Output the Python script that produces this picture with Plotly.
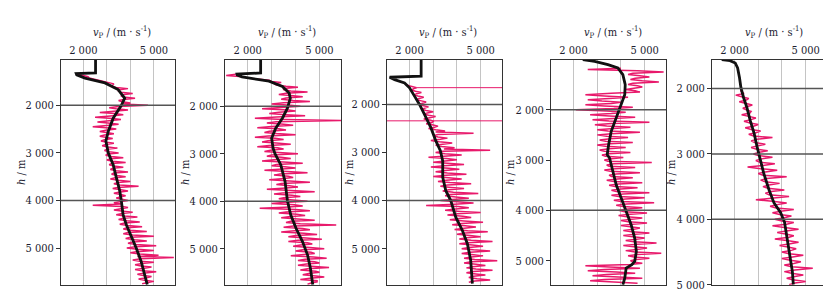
import plotly.graph_objects as go

W, H = 831, 289

# ---------------- data ----------------
# black smoothed velocity curves (depth m, vp m/s)
b1_d = [1042, 1320, 1335, 1360, 1430, 1530, 1670, 1850, 2000, 2270, 2550, 2750, 3000, 3250, 3530, 3800, 4020, 4300, 4510, 4720, 5000, 5280, 5560, 5770]
b1_v = [2520, 2520, 1700, 1720, 2070, 2920, 3480, 3760, 3620, 3270, 3060, 2960, 3060, 3270, 3410, 3550, 3620, 3690, 3830, 4020, 4250, 4460, 4610, 4720]

b2_d = [1017, 1297, 1320, 1340, 1380, 1420, 1470, 1580, 1720, 1830, 2040, 2250, 2460, 2670, 2880, 3000, 3230, 3580, 3990, 4290, 4570, 4850, 5130, 5410, 5760]
b2_v = [2540, 2540, 1550, 1560, 1760, 2330, 2890, 3450, 3730, 3780, 3660, 3450, 3170, 3000, 3060, 3140, 3380, 3560, 3660, 3800, 4020, 4290, 4500, 4620, 4720]

b3_d = [1068, 1412, 1433, 1483, 1551, 1654, 1826, 2000, 2207, 2482, 2758, 2960, 3172, 3517, 3793, 4000, 4345, 4621, 4898, 5242, 5726]
b3_v = [2490, 2490, 1160, 1370, 1790, 2000, 2210, 2420, 2630, 2900, 3110, 3300, 3400, 3400, 3530, 3740, 3950, 4230, 4440, 4580, 4650]

b4_d = [1006, 1038, 1105, 1171, 1304, 1503, 1702, 1901, 2165, 2429, 2696, 2895, 2960, 3225, 3491, 3755, 4020, 4286, 4551, 4815, 5014, 5081, 5147, 5346, 5479]
b4_v = [2390, 2890, 3450, 3870, 4080, 4180, 4160, 4010, 3800, 3590, 3480, 3420, 3520, 3660, 3800, 4010, 4220, 4430, 4580, 4650, 4580, 4460, 4220, 4160, 4080]

b5_d = [1558, 1573, 1608, 1683, 1834, 1985, 2136, 2287, 2487, 2689, 2890, 2991, 3292, 3543, 3745, 3896, 4046, 4297, 4549, 4800, 5000]
b5_v = [1460, 1810, 2030, 2130, 2210, 2270, 2380, 2520, 2660, 2830, 2950, 3020, 3230, 3450, 3660, 3940, 4110, 4220, 4340, 4440, 4480]

# pink measured logs, 25 m sampling: "core" samples at start-25+50k, "spike" samples at start+50k
p1_start = 1350
p1_core = [1750, 2000, 2250, 2700, 3000, 3250, 3400, 3550, 3600, 3750,
           3700, 3800, 3650, 3700, 3500, 3400, 3300, 3350, 3150, 3250,
           3100, 3150, 3000, 3100, 2950, 3050, 2900, 3000, 2900, 3000,
           2950, 3050, 3000, 3100, 3050, 3200, 3150, 3250, 3200, 3300,
           3250, 3400, 3300, 3450, 3350, 3500, 3450, 3550, 3450, 3600,
           3500, 3600, 3550, 3650, 3550, 3600, 3650, 3600, 3700, 3650,
           3750, 3700, 3850, 3750, 3900, 3850, 4000, 3900, 4100, 4000,
           4200, 4100, 4250, 4200, 4300, 4250, 4400, 4300, 4450, 4400,
           4500, 4450, 4600, 4500, 4650, 4550, 4700, 4600, 4750]
p1_spike = [1700, 2200, 2450, 2900, 3300, 3200, 3900, 3500, 4100, 3600,
            4200, 3500, 4000, 4750, 3100, 3900, 2700, 3700, 2500, 3600,
            2600, 3500, 2400, 3400, 2700, 3300, 2700, 3250, 2750, 3300,
            2800, 3450, 2900, 3500, 2950, 3700, 3000, 3800, 3100, 3700,
            3150, 3900, 3200, 3800, 3150, 4000, 3300, 4350, 3250, 3900,
            3300, 3800, 3400, 3900, 3300, 2400, 3900, 3300, 4100, 3400,
            4300, 3500, 4400, 3550, 4500, 3700, 4700, 3700, 5000, 3800,
            4700, 3900, 5100, 3850, 5000, 4000, 5200, 5850, 4100, 5000,
            4200, 4900, 4200, 5100, 4300, 4900, 4350, 5000, 4500]

p2_start = 1350
p2_core = [1500, 1800, 2400, 3000, 3100, 3600, 3500, 3800, 3600, 3900,
           3600, 3900, 3500, 3800, 3400, 3700, 3300, 3600, 3200, 3500,
           3200, 3400, 3000, 3300, 2900, 3200, 2850, 3150, 2850, 3200,
           2900, 3250, 2950, 3300, 3000, 3400, 3100, 3500, 3200, 3550,
           3300, 3650, 3350, 3700, 3400, 3750, 3400, 3750, 3450, 3800,
           3450, 3850, 3500, 3900, 3500, 3950, 3550, 4000, 3600, 4050,
           3700, 4100, 3800, 4200, 3900, 4300, 3950, 4350, 4000, 4450,
           4100, 4500, 4200, 4600, 4300, 4650, 4350, 4750, 4400, 4800,
           4450, 4800, 4500, 4850, 4550, 4850, 4600, 4900, 4650]
p2_spike = [1100, 2000, 2900, 3400, 3200, 4100, 3500, 4500, 3300, 4300,
            3400, 4600, 3000, 4200, 2600, 4000, 2900, 4400, 2300, 5900,
            2800, 3900, 2400, 3600, 2700, 4000, 2300, 3500, 2600, 3800,
            2400, 3500, 2700, 4100, 2800, 3800, 2600, 4300, 3000, 4000,
            2700, 4500, 3100, 3900, 2900, 4600, 3200, 4100, 2800, 4800,
            3100, 4200, 3300, 4500, 3000, 4300, 2500, 4600, 3300, 4400,
            3400, 4800, 3600, 5700, 3500, 4600, 3400, 4900, 3700, 5100,
            3700, 4700, 3900, 5200, 4000, 4800, 3800, 5300, 4100, 5000,
            4100, 5400, 4200, 5000, 4300, 5200, 4200, 4900, 4500]

p3_start = 1600
p3_core = [1900, 2100, 2150, 2250, 2300, 2350, 2400, 2500, 2550, 2600,
           2650, 2700, 2750, 2800, 2850, 2900, 2950, 3000, 3050, 3100,
           3100, 3200, 3200, 3300, 3250, 3400, 3350, 3450, 3400, 3500,
           3450, 3550, 3500, 3600, 3450, 3650, 3500, 3600, 3550, 3650,
           3550, 3700, 3600, 3750, 3650, 3850, 3700, 3950, 3800, 4000,
           3900, 4050, 3950, 4150, 4000, 4250, 4100, 4300, 4200, 4350,
           4300, 4450, 4350, 4550, 4400, 4600, 4450, 4650, 4500, 4700,
           4550, 4700, 4600, 4750, 4600, 4800, 4650, 4800, 4700, 4800,
           4700, 4850, 4750]
p3_spike = [1900, 2300, 2100, 2500, 2200, 2600, 2300, 2700, 2400, 2800,
            2500, 3000, 2600, 3100, 2600, 3000, 2700, 3200, 2800, 3500,
            4700, 3000, 3600, 2900, 3800, 3100, 3900, 5400, 3100, 4200,
            2800, 4000, 3000, 4300, 2900, 4100, 3100, 4400, 3000, 4200,
            3200, 4600, 3300, 4300, 3400, 4900, 3500, 4500, 3300, 4700,
            2700, 4500, 3500, 5000, 3600, 4600, 3700, 5100, 3800, 4800,
            3900, 5300, 4000, 5000, 4100, 5500, 4100, 5100, 4200, 5400,
            4200, 5100, 4300, 5700, 4300, 5200, 4400, 5500, 4400, 5200,
            4500, 5400, 4500]
p3_long_d = [1650, 2340]
p3_long_lo = [2300, 900]
p3_long_hi = [6100, 6100]

p4_start = 1200
p4_core = [4000, 4700, 4500, 4800, 4600, 4900, 4500, 4700, 4550, 4600,
           3600, 3300, 3500, 3200, 3600, 3300, 3700, 3400, 3600, 3500,
           3700, 3500, 3600, 3400, 3700, 3450, 3600, 3400, 3550, 3350,
           3550, 3350, 3500, 3300, 3500, 3350, 3600, 3450, 3700, 3500,
           3750, 3550, 3800, 3600, 3850, 3700, 3900, 3750, 4000, 3800,
           4100, 3900, 4200, 4000, 4250, 4100, 4300, 4150, 4400, 4250,
           4450, 4300, 4500, 4400, 4550, 4450, 4600, 4500, 4650, 4550,
           4700, 4550, 4750, 4600, 4700, 4550, 4650, 4500, 4400, 3500,
           3300, 3800, 3400, 3900, 3300, 3700]
p4_spike = [2600, 5800, 4300, 5200, 4400, 5600, 4300, 4900, 4200, 4800,
            2500, 4300, 2600, 4000, 2500, 4500, 2100, 4200, 2700, 4600,
            2800, 5200, 2900, 4400, 3000, 4800, 3000, 4300, 3100, 4500,
            3000, 4200, 3100, 4400, 3200, 4100, 3300, 5300, 3400, 4600,
            3300, 4800, 3500, 4500, 3400, 4900, 3500, 4700, 3600, 5200,
            3600, 5000, 3700, 5400, 3800, 4900, 3900, 5100, 3900, 4900,
            4000, 5100, 4000, 4800, 4100, 5200, 4100, 5000, 4200, 5500,
            4100, 5100, 4200, 5700, 4300, 5200, 4400, 4900, 2500, 4800,
            2600, 4600, 2800, 4900, 2700, 4700]

p5_start = 2050
p5_core = [2250, 2400, 2300, 2500, 2450, 2550, 2500, 2650, 2600, 2700,
           2650, 2800, 2700, 2900, 2800, 2950, 2850, 3000, 2900, 3050,
           3000, 3150, 3050, 3200, 3100, 3300, 3200, 3350, 3300, 3450,
           3400, 3550, 3450, 3650, 3600, 3800, 3750, 3950, 3900, 4100,
           4000, 4200, 4100, 4250, 4150, 4300, 4200, 4350, 4250, 4400,
           4300, 4450, 4350, 4500, 4400, 4550, 4400, 4550, 4450, 4550]
p5_spike = [2300, 2050, 2600, 2200, 2750, 2350, 2700, 2300, 2900, 2400,
            3000, 2450, 3100, 2600, 3600, 2700, 3300, 2700, 3400, 2800,
            3600, 2900, 3700, 2550, 3800, 3000, 4200, 3100, 3900, 3200,
            4100, 3300, 4300, 2900, 4200, 3500, 4500, 3600, 4400, 3700,
            4500, 3600, 4700, 3800, 4500, 3700, 4700, 3900, 4600, 4000,
            4900, 4000, 4800, 4100, 5300, 4100, 4900, 4200, 5000, 4300]

y_ranges = [(5770, 1042), (5760, 1017), (5750, 1068), (5477, 1006), (5000, 1558)]
hlines = [[2000, 4000], [2000, 4000], [2000, 4000], [2000, 4000], [2000, 3000, 4000]]
x_ticks = [2000, 5000]
x_ticktext = ["2 000", "5 000"]
y_ticks = [2000, 3000, 4000, 5000]
y_ticktext = ["2 000", "3 000", "4 000", "5 000"]

# ---------------- figure ----------------
FONT = "DejaVu Serif Condensed, DejaVu Serif"
FS = 11
TXT = "#1c1c30"
PINK = "#e8196b"
SAMPLE = 50

box_x = [(53, 167), (217, 333), (379, 494), (543, 658), (704, 819)]
top_px, bot_px = 51.7, 276.7
ytitle_x = [13, 177, 341, 502, 663]

blacks = [(b1_d, b1_v), (b2_d, b2_v), (b3_d, b3_v), (b4_d, b4_v), (b5_d, b5_v)]
pinks = [(p1_start, p1_core, p1_spike), (p2_start, p2_core, p2_spike), (p3_start, p3_core, p3_spike),
         (p4_start, p4_core, p4_spike), (p5_start, p5_core, p5_spike)]

fig = go.Figure()
layout = dict(
    width=W, height=H, margin=dict(l=0, r=0, t=0, b=0),
    paper_bgcolor="white", plot_bgcolor="white", showlegend=False,
    font=dict(family=FONT, size=FS, color=TXT),
)
shapes = []
annotations = []

for i in range(5):
    n = i + 1
    xa = "x" if n == 1 else f"x{n}"
    ya = "y" if n == 1 else f"y{n}"
    start, core, spike = pinks[i]
    px, py = [], []
    for k, (c, s) in enumerate(zip(core, spike)):
        d = start + k * SAMPLE
        px += [c, s]
        py += [d - SAMPLE / 2, d]
    fig.add_trace(go.Scatter(x=px, y=py, mode="lines",
                             line=dict(color=PINK, width=1.5), xaxis=xa, yaxis=ya,
                             hoverinfo="skip"))
    if n == 3:
        sx, sy = [], []
        for d, lo, hi in zip(p3_long_d, p3_long_lo, p3_long_hi):
            sx += [lo, hi, None]
            sy += [d, d, None]
        fig.add_trace(go.Scatter(x=sx, y=sy, mode="lines",
                                 line=dict(color=PINK, width=1), xaxis=xa, yaxis=ya))
    bd, bv = blacks[i]
    fig.add_trace(go.Scatter(x=bv, y=bd, mode="lines",
                             line=dict(color="#111111", width=2.8), xaxis=xa, yaxis=ya))

    x0, x1 = box_x[i]
    layout[f"xaxis{'' if n == 1 else n}"] = dict(
        domain=[x0 / W, x1 / W], range=[1050, 5900], side="top", anchor=ya,
        tickmode="array", tickvals=x_ticks, ticktext=x_ticktext, ticks="",
        showgrid=True, gridcolor="#c4c4c4", gridwidth=1,
        minor=dict(tick0=0, dtick=1000, showgrid=True, gridcolor="#c4c4c4", gridwidth=1, ticks=""),
        showline=True, mirror=True, linecolor="#333333", linewidth=1,
        zeroline=False, tickfont=dict(family=FONT, size=FS, color=TXT), automargin=False,
    )
    yr = y_ranges[i]
    layout[f"yaxis{'' if n == 1 else n}"] = dict(
        domain=[1 - bot_px / H, 1 - top_px / H], range=[yr[0], yr[1]], anchor=xa,
        tickmode="array", tickvals=y_ticks, ticktext=y_ticktext,
        ticks="outside", ticklen=4, tickcolor="#333333",
        showgrid=False, showline=True, mirror=True, linecolor="#333333", linewidth=1,
        zeroline=False, tickfont=dict(family=FONT, size=FS, color=TXT), automargin=False,
    )
    for hv in hlines[i]:
        shapes.append(dict(type="line", xref=f"{xa} domain", x0=0, x1=1, yref=ya, y0=hv, y1=hv,
                           line=dict(color="#555555", width=1.5), layer="above"))
    annotations.append(dict(
        text="<i>v</i><sub>P</sub> / (m · s<sup>-1</sup>)", xref="paper", yref="paper",
        x=((x0 + x1) / 2 + 4) / W, y=1 - 24 / H, showarrow=False,
        xanchor="center", yanchor="middle", font=dict(family=FONT, size=FS, color=TXT)))
    annotations.append(dict(
        text="<i>h</i> / m", xref="paper", yref="paper", textangle=-90,
        x=ytitle_x[i] / W, y=1 - 164 / H, showarrow=False,
        xanchor="center", yanchor="middle", font=dict(family=FONT, size=FS, color=TXT)))

layout["shapes"] = shapes
layout["annotations"] = annotations
fig.update_layout(**layout)
fig.write_html("out.html")
